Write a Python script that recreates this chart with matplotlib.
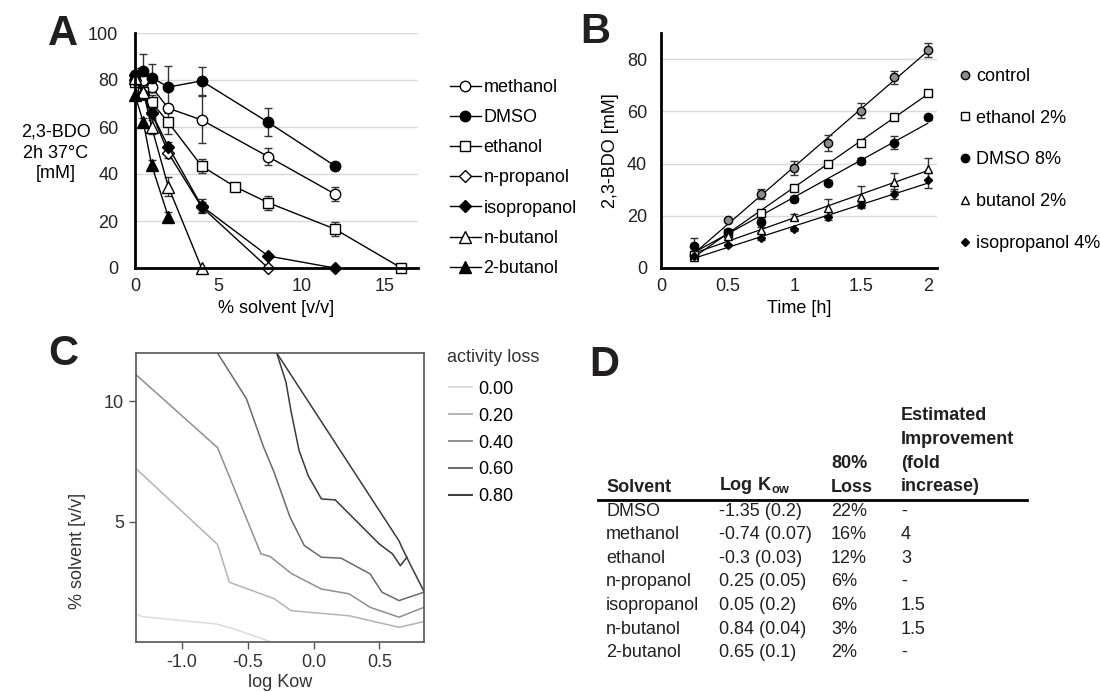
import numpy as np
import matplotlib.pyplot as plt
from matplotlib.lines import Line2D

plt.rcParams['font.family'] = ['Liberation Sans', 'DejaVu Sans']
plt.rcParams['mathtext.fontset'] = 'custom'
plt.rcParams['mathtext.rm'] = 'Liberation Sans'
plt.rcParams['mathtext.bf'] = 'Liberation Sans:bold'
plt.rcParams['font.size'] = 13

# ==========================================
# Data - panel A (2h, 37 C, mM vs % solvent)
# ==========================================

methanol_x = [0, 0.5, 1, 2, 4, 8, 12]
methanol_y = [80, 80, 77, 68, 63, 47.4, 31.5]
methanol_err = [2, 2, 2, 2, 10, 3.7, 3]

dmso_x = [0, 0.5, 1, 2, 4, 8, 12]
dmso_y = [82, 84, 81, 77, 79.6, 62, 43.5]
dmso_err = [3, 7, 6, 9, 6, 6, 1]

ethanol_x = [0, 0.5, 1, 2, 4, 6, 8, 12, 16]
ethanol_y = [79, 75, 70.5, 62, 43.4, 34.6, 27.8, 16.6, 0]
ethanol_err = [2, 2, 3, 5, 3, 0, 3, 3, 0]

npropanol_x = [0, 0.5, 1, 2, 4, 8]
npropanol_y = [80, 74, 66, 49, 26, 0]
npropanol_err = [2, 2, 2, 2, 2, 0]

isopropanol_x = [0, 0.5, 1, 2, 4, 8, 12]
isopropanol_y = [82, 74, 66, 51.6, 26.4, 5.1, 0]
isopropanol_err = [2, 2, 2, 2, 3, 0, 0]

nbutanol_x = [0, 0.5, 1, 2, 4]
nbutanol_y = [81, 75, 60, 34.6, 0]
nbutanol_err = [3, 3, 3, 4, 0]

butanol2_x = [0, 0.5, 1, 2]
butanol2_y = [73.6, 62, 43.8, 21.8]
butanol2_err = [2, 2, 2, 2]

# ==========================================
# Data - panel B (time course)
# ==========================================

b_time = [0.25, 0.5, 0.75, 1.0, 1.25, 1.5, 1.75, 2.0]
control_y = [5, 18.4, 28.3, 38.3, 48, 60.3, 73, 83.5]
control_err = [0.5, 0.5, 2, 2.5, 3, 3, 2.5, 2.5]
ethanol2_y = [5, 13.5, 21.2, 30.5, 40, 48, 57.8, 67.2]
ethanol2_err = [0.5, 0.5, 0.5, 0.5, 0.5, 0.5, 0.5, 0.5]
dmso8_y = [8.4, 13.7, 17.7, 26.4, 32.7, 41, 48, 57.7]
dmso8_err = [3, 1, 1, 1, 1, 1, 2.5, 1]
butanol2p_y = [4.3, 12.4, 14.6, 19.7, 22.9, 27.3, 32.8, 38]
butanol2p_err = [0.5, 1, 1, 1, 3.5, 4, 3.5, 4]
isoprop4_y = [4.5, 8.8, 11.4, 14.8, 19.4, 24.1, 28.3, 33.7]
isoprop4_err = [0.5, 0.5, 0.5, 0.5, 1, 1, 2, 3]

# ==========================================
# Data - panel C (activity loss contours)
# ==========================================

c000_x = [-1.35, -1.30, -0.74, -0.61, -0.32]
c000_y = [1.17, 1.05, 0.75, 0.55, 0.0]

c020_x = [-1.35, -0.73, -0.64, -0.30, -0.17, 0.27, 0.65, 0.84]
c020_y = [7.2, 4.05, 2.48, 1.8, 1.3, 1.09, 0.61, 0.85]

c040_x = [-1.35, -0.73, -0.40, -0.33, -0.17, -0.09, 0.06, 0.27, 0.43, 0.65, 0.84]
c040_y = [11.1, 8.07, 3.66, 3.55, 2.85, 2.62, 2.2, 2.0, 1.44, 1.03, 1.44]

c060_x = [-0.73, -0.51, -0.38, -0.30, -0.18, -0.07, 0.06, 0.21, 0.43, 0.52, 0.65, 0.84]
c060_y = [12.0, 10.1, 8.1, 7.05, 5.2, 4.0, 3.52, 3.48, 2.83, 2.07, 1.72, 2.07]

c080a_x = [-0.28, 0.65, 0.67, 0.71, 0.84]
c080a_y = [12.0, 4.2, 3.95, 3.5, 2.1]

c080b_x = [-0.28, -0.21, -0.17, -0.11, -0.04, 0.06, 0.165, 0.5, 0.6, 0.66, 0.71]
c080b_y = [12.0, 10.8, 9.55, 7.95, 6.9, 5.94, 5.9, 4.07, 3.66, 3.17, 3.52]

loss_levels = ["0.00", "0.20", "0.40", "0.60", "0.80"]

# ==========================================
# Data - panel D (table)
# ==========================================

d_solvent = ["DMSO", "methanol", "ethanol", "n-propanol", "isopropanol", "n-butanol", "2-butanol"]
d_logkow = ["-1.35 (0.2)", "-0.74 (0.07)", "-0.3 (0.03)", "0.25 (0.05)", "0.05 (0.2)", "0.84 (0.04)", "0.65 (0.1)"]
d_loss = ["22%", "16%", "12%", "6%", "6%", "3%", "2%"]
d_improve = ["-", "4", "3", "-", "1.5", "1.5", "-"]

# ==========================================
# Figure
# ==========================================

W, H = 1100, 692
fig = plt.figure(figsize=(11, 6.92), dpi=100)


def fx(px):
    return px / W


def fy(py):
    return 1 - py / H


# ------------------------------------------
# Panel A
# ------------------------------------------

ax_a = fig.add_axes([fx(135), fy(268), fx(418 - 135), (268 - 33) / H])

a_series = [
    ("methanol", methanol_x, methanol_y, methanol_err, "o", "white", 7.5),
    ("DMSO", dmso_x, dmso_y, dmso_err, "o", "black", 7.5),
    ("ethanol", ethanol_x, ethanol_y, ethanol_err, "s", "white", 7),
    ("n-propanol", npropanol_x, npropanol_y, npropanol_err, "D", "white", 6),
    ("isopropanol", isopropanol_x, isopropanol_y, isopropanol_err, "D", "black", 6),
    ("n-butanol", nbutanol_x, nbutanol_y, nbutanol_err, "^", "white", 8),
    ("2-butanol", butanol2_x, butanol2_y, butanol2_err, "^", "black", 8),
]

for name, x, y, err, mk, fc, ms in a_series:
    ax_a.errorbar(x, y, yerr=err, fmt="none", ecolor="#333333",
                  elinewidth=1, capsize=3, capthick=1, zorder=2)
    ax_a.plot(x, y, color="black", lw=1, marker=mk, mfc=fc, mec="black",
              mew=1, ms=ms, label=name, zorder=3, clip_on=False)

ax_a.set_xlim(0, 17)
ax_a.set_ylim(0, 100)
ax_a.set_xticks([0, 5, 10, 15])
ax_a.set_yticks([0, 20, 40, 60, 80, 100])
ax_a.grid(axis="y", color="#d9d9d9", lw=1)
ax_a.set_axisbelow(True)
for s in ["top", "right"]:
    ax_a.spines[s].set_visible(False)
for s in ["left", "bottom"]:
    ax_a.spines[s].set_linewidth(2)
    ax_a.spines[s].set_zorder(4)
ax_a.tick_params(length=0, labelsize=13, colors="#222222")
ax_a.tick_params(axis="y", pad=12)
ax_a.tick_params(axis="x", pad=7)
ax_a.set_xlabel("% solvent [v/v]", fontsize=13, labelpad=4)
fig.text(fx(56), fy(153), "2,3-BDO\n2h 37°C\n[mM]", ha="center", va="center",
         fontsize=13, linespacing=1.3)

fig.legend(*ax_a.get_legend_handles_labels(), loc="center left",
           bbox_to_anchor=(fx(450), fy(178)), frameon=False, fontsize=13,
           borderpad=0, borderaxespad=0, handlelength=1.7, handletextpad=0.15,
           labelspacing=0.73)

# ------------------------------------------
# Panel B
# ------------------------------------------

ax_b = fig.add_axes([fx(661), fy(268), fx(937 - 661), (268 - 33) / H])

b_series = [
    ("control", control_y, control_err, "o", "#8c8c8c", 7.5),
    ("ethanol 2%", ethanol2_y, ethanol2_err, "s", "white", 7),
    ("DMSO 8%", dmso8_y, dmso8_err, "o", "black", 7.5),
    ("butanol 2%", butanol2p_y, butanol2p_err, "^", "white", 8),
    ("isopropanol 4%", isoprop4_y, isoprop4_err, "D", "black", 5),
]

t = np.array(b_time)
for name, y, err, mk, fc, ms in b_series:
    slope, icpt = np.polyfit(t, y, 1)
    ax_b.plot([t[0], t[-1]], [slope * t[0] + icpt, slope * t[-1] + icpt],
              color="black", lw=0.9, zorder=2)
    ax_b.errorbar(t, y, yerr=err, fmt="none", ecolor="#333333",
                  elinewidth=1, capsize=3, capthick=1, zorder=2)
    ax_b.plot(t, y, ls="none", marker=mk, mfc=fc, mec="black", mew=1,
              ms=ms, label=name, zorder=3)

ax_b.set_xlim(0, 2.07)
ax_b.set_ylim(0, 90)
ax_b.set_xticks([0, 0.5, 1, 1.5, 2])
ax_b.set_xticklabels(["0", "0.5", "1", "1.5", "2"])
ax_b.set_yticks([0, 20, 40, 60, 80])
ax_b.grid(axis="y", color="#d9d9d9", lw=1)
ax_b.set_axisbelow(True)
for s in ["top", "right"]:
    ax_b.spines[s].set_visible(False)
for s in ["left", "bottom"]:
    ax_b.spines[s].set_linewidth(2)
ax_b.tick_params(length=0, labelsize=13, colors="#222222")
ax_b.tick_params(axis="y", pad=10)
ax_b.tick_params(axis="x", pad=7)
ax_b.set_xlabel("Time [h]", fontsize=13, labelpad=4)
ax_b.set_ylabel("2,3-BDO [mM]", fontsize=13, labelpad=6)

hb, lb = ax_b.get_legend_handles_labels()
for h in hb:
    h.set_markersize(h.get_markersize() * 0.8)
fig.legend(hb, lb, loc="center left", bbox_to_anchor=(fx(958), fy(160)),
           frameon=False, fontsize=13, borderpad=0, borderaxespad=0,
           handlelength=0.8, handletextpad=0.2, labelspacing=1.37)

# ------------------------------------------
# Panel C
# ------------------------------------------

ax_c = fig.add_axes([fx(136), fy(642), fx(424 - 136), (642 - 353) / H])

c_grays = ["#dcdcdc", "#b4b4b4", "#8f8f8f", "#6a6a6a", "#3a3a3a"]
c_lines = [
    (c000_x, c000_y, 0),
    (c020_x, c020_y, 1),
    (c040_x, c040_y, 2),
    (c060_x, c060_y, 3),
    (c080a_x, c080a_y, 4),
    (c080b_x, c080b_y, 4),
]
for x, y, k in c_lines:
    ax_c.plot(x, y, color=c_grays[k], lw=1.1)

ax_c.set_xlim(-1.35, 0.84)
ax_c.set_ylim(0, 12)
ax_c.set_xticks([-1.0, -0.5, 0.0, 0.5])
ax_c.set_xticklabels(["-1.0", "-0.5", "0.0", "0.5"])
ax_c.set_yticks([5, 10])
for s in ax_c.spines.values():
    s.set_color("#555555")
    s.set_linewidth(1.2)
ax_c.tick_params(direction="out", length=5, width=1, color="#555555",
                 labelsize=13, labelcolor="#333333")
ax_c.set_xlabel("log Kow", fontsize=13, color="#333333", labelpad=2)
ax_c.set_ylabel("% solvent [v/v]", fontsize=13, color="#333333")
ax_c.yaxis.set_label_coords(-0.175, 0.315)

fig.text(fx(447), fy(357), "activity loss", fontsize=13, color="#333333",
         va="center")
c_handles = [Line2D([], [], color=c_grays[k], lw=1.4) for k in range(len(loss_levels))]
fig.legend(c_handles, loss_levels, loc="center left",
           bbox_to_anchor=(fx(449), fy(443)), frameon=False, fontsize=13,
           borderpad=0, borderaxespad=0, handlelength=1.3,
           handletextpad=0.3, labelspacing=0.55)

# ------------------------------------------
# Panel D
# ------------------------------------------

col_x = [606, 719, 831, 901]
row0 = 511
row_h = 23.6
ink = "#231f20"

fig.text(fx(col_x[0]), fy(487), "Solvent", fontsize=13, weight="bold",
         color=ink, va="center")
fig.text(fx(col_x[1]), fy(485), r"$\mathbf{Log\ K_{ow}}$", fontsize=13,
         color=ink, va="center")
for i, line in enumerate(["80%", "Loss"]):
    fig.text(fx(col_x[2]), fy(463.5 + i * row_h), line, fontsize=13,
             weight="bold", color=ink, va="center")
for i, line in enumerate(["Estimated", "Improvement", "(fold", "increase)"]):
    fig.text(fx(col_x[3]), fy(416 + i * row_h), line, fontsize=13,
             weight="bold", color=ink, va="center")

fig.add_artist(Line2D([fx(598), fx(1027)], [fy(499.5), fy(499.5)],
                      transform=fig.transFigure, color="black", lw=2))

for i in range(len(d_solvent)):
    yy = fy(row0 + i * row_h)
    for cx, val in zip(col_x, [d_solvent[i], d_logkow[i], d_loss[i], d_improve[i]]):
        fig.text(fx(cx), yy, val, fontsize=13, color=ink, va="center")

# ------------------------------------------
# Panel letters
# ------------------------------------------

for letter, px, py in [("A", 63, 34), ("B", 595, 32), ("C", 63, 354), ("D", 604, 365)]:
    fig.text(fx(px), fy(py), letter, fontsize=30, weight="bold",
             ha="center", va="center", color=ink)

fig.savefig("out.png", dpi=100)
